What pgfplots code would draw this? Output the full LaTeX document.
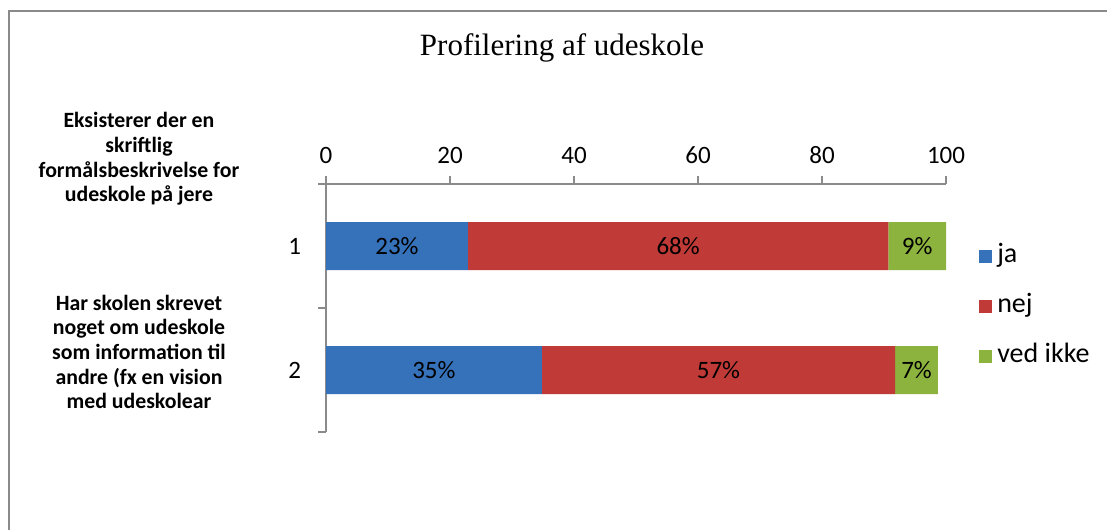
\documentclass[border=0pt]{standalone}
\usepackage{fontspec}
\setmainfont{Carlito}
\newfontfamily\titlefont{Liberation Serif}
\usepackage{pgfplots}
\pgfplotsset{compat=1.18}

\definecolor{jacol}{HTML}{3672BA}
\definecolor{nejcol}{HTML}{C03A37}
\definecolor{vedcol}{HTML}{8CB33E}
\definecolor{axisgray}{HTML}{8A8A8A}

\begin{document}
\begin{tikzpicture}
\useasboundingbox (0,0) rectangle (553.5pt,265pt);
% frame (only left and top are visible)
\draw[axisgray, line width=1pt] (4.5pt,0pt) -- (4.5pt,259.5pt) -- (553.5pt,259.5pt);

\node[font=\titlefont\fontsize{15.5}{18}\selectfont] at (281pt,241pt) {Profilering af udeskole};

\node[font=\bfseries\fontsize{10.9}{12.3}\selectfont, align=center] at (69.5pt,185.5pt)
  {Eksisterer der en\\skriftlig\\formålsbeskrivelse for\\udeskole på jere};
\node[font=\bfseries\fontsize{10.9}{12.3}\selectfont, align=center] at (69.5pt,89pt)
  {Har skolen skrevet\\noget om udeskole\\som information til\\andre (fx en vision\\med udeskolear};

\begin{axis}[
    at={(163pt,49pt)}, anchor=south west,
    width=310pt, height=124pt, scale only axis,
    xbar stacked,
    bar width=24pt,
    xmin=0, xmax=100,
    ymin=0.5, ymax=2.5,
    y dir=reverse,
    axis x line*=top,
    axis y line*=left,
    axis line style={-, axisgray, line width=0.8pt},
    xtick={0,20,40,60,80,100},
    ytick={1,2},
    yticklabels={1,2},
    minor ytick={0.5,1.5,2.5},
    tick align=outside,
    major tick length=4pt,
    minor tick length=4pt,
    major x tick style={axisgray, line width=0.8pt},
    major y tick style={draw=none},
    minor y tick style={axisgray, line width=0.8pt},
    /pgf/number format/assume math mode=true,
    tick label style={font=\fontsize{12.5}{15}\selectfont},
    xticklabel style={yshift=2.5pt},
    yticklabel style={xshift=-5pt},
    nodes near coords={\pgfmathprintnumber[fixed,precision=0]{\pgfplotspointmeta}\%},
    every node near coord/.append style={anchor=center, font=\fontsize{12.5}{15}\selectfont},
    legend image code/.code={\fill[#1] (0pt,-3.25pt) rectangle (6.5pt,3.25pt);},
    legend style={at={(1.053,0.508)}, anchor=west, draw=none, fill=none,
        font=\fontsize{14}{16}\selectfont, inner sep=0pt,
        cells={anchor=west}, row sep=8.5pt,
        nodes={text height=9.5pt, text depth=3pt, inner xsep=2.5pt}},
]
\addplot[draw=none, fill=jacol] coordinates {(22.9,1) (34.8,2)};
\addplot[draw=none, fill=nejcol] coordinates {(67.8,1) (57.0,2)};
\addplot[draw=none, fill=vedcol] coordinates {(9.3,1) (6.9,2)};
\legend{ja, nej, ved ikke}
\end{axis}
\end{tikzpicture}
\end{document}
